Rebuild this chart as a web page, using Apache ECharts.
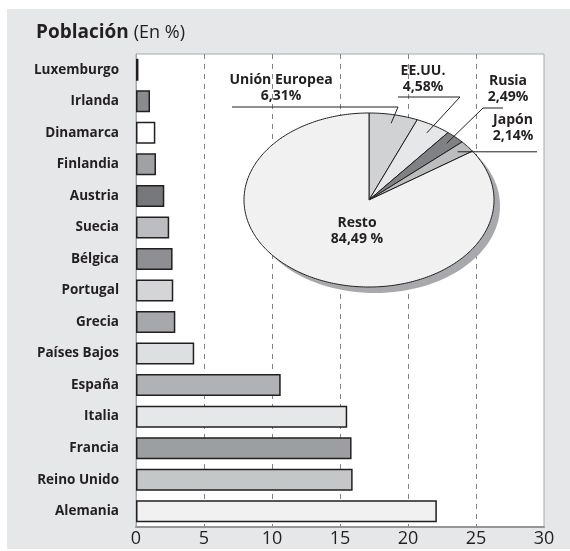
<!DOCTYPE html>
<html>
<head>
<meta charset="utf-8">
<script src="https://cdn.jsdelivr.net/npm/echarts@6/dist/echarts.min.js"></script>
<style>
  html, body { margin: 0; padding: 0; background: #fff; }
  #panel { position: absolute; left: 7px; top: 9px; width: 563px; height: 540px; background: #e6e7e8; }
  #chart { position: absolute; left: 0; top: 0; width: 570px; height: 551px; }
</style>
</head>
<body>
<div id="panel"></div>
<div id="chart"></div>
<script>
// bar data (top to bottom)
const countries = [
  "Luxemburgo", "Irlanda", "Dinamarca", "Finlandia", "Austria", "Suecia", "Bélgica",
  "Portugal", "Grecia", "Países Bajos", "España", "Italia", "Francia", "Reino Unido", "Alemania",
];
const shares = [0.18, 1.03, 1.42, 1.47, 2.08, 2.44, 2.69, 2.74, 2.89, 4.28, 10.64, 15.53, 15.85, 15.93, 22.12];
const barColors = [
  "#333333", "#8a8b8e", "#ffffff", "#a0a1a4", "#77787b", "#bcbdc0", "#8e8f92",
  "#d4d5d7", "#a7a8ab", "#dedfe0", "#b1b2b5", "#e6e7e8", "#9d9ea1", "#c5c6c8", "#f1f1f2",
];
const xTicks = [0, 5, 10, 15, 20, 25, 30];

// pie data (clockwise from 12 o'clock)
const pieNames = ["Unión Europea", "EE.UU.", "Rusia", "Japón", "Resto"];
const pieValues = [6.31, 4.58, 2.49, 2.14, 84.49];
const pieColors = ["#d1d2d4", "#e6e7e8", "#808184", "#bcbdbf", "#f1f1f2"];

// pie layout
const pie = { cx: 369, cy: 200, rx: 125, ry: 87 };
const labelPos = [[281, 88], [423, 79], [508, 89], [513, 128], [357, 231]];
const leaderElbow = [[398, 107], [460, 97], [483, 108], null, null];
const leaderEnd = [[232, 107], [398, 97], [503, 108], [537, 149], null];

const textColor = "#231f20";
const pieTotal = pieValues.reduce((a, b) => a + b, 0);

const ellipsePoint = (frac, r) => {
  const a = frac * 2 * Math.PI;
  return [pie.cx + pie.rx * r * Math.sin(a), pie.cy - pie.ry * r * Math.cos(a)];
};

const renderSlice = (params, api) => {
  const i = params.dataIndex;
  let start = 0;
  for (let k = 0; k < i; k += 1) start += pieValues[k];
  const from = start / pieTotal;
  const to = (start + api.value(0)) / pieTotal;
  const steps = Math.max(4, Math.ceil((to - from) * 360));
  const points = [[pie.cx, pie.cy]];
  for (let s = 0; s <= steps; s += 1) {
    points.push(ellipsePoint(from + ((to - from) * s) / steps, 1));
  }
  const children = [];
  if (i === 0) {
    // drop shadow under the whole pie
    children.push({
      type: "ellipse",
      shape: { cx: pie.cx + 6, cy: pie.cy + 6, rx: pie.rx, ry: pie.ry },
      style: { fill: "#a7a9ac" },
      z2: 0,
    });
  }
  children.push({
    type: "polygon",
    shape: { points },
    style: { fill: pieColors[i], stroke: "#231f20", lineWidth: 1 },
    z2: 1,
  });
  if (leaderEnd[i]) {
    const inner = ellipsePoint((from + to) / 2, 0.9);
    const linePts = [inner];
    if (leaderElbow[i]) linePts.push(leaderElbow[i]);
    linePts.push([leaderEnd[i][0], leaderElbow[i] ? leaderElbow[i][1] : inner[1]]);
    children.push({
      type: "polyline",
      shape: { points: linePts },
      style: { stroke: "#231f20", lineWidth: 1, fill: null },
      z2: 2,
    });
  }
  const valText = api.value(0).toFixed(2).replace(".", ",") + (i === 4 ? " %" : "%");
  children.push({
    type: "text",
    style: {
      text: pieNames[i] + "\n" + valText,
      x: labelPos[i][0],
      y: labelPos[i][1],
      align: "center",
      verticalAlign: "middle",
      fill: textColor,
      font: "bold 14px 'Open Sans'",
      lineHeight: 16,
    },
    z2: 3,
  });
  return { type: "group", children };
};

const chart = echarts.init(document.getElementById("chart"));
chart.setOption({
  backgroundColor: "transparent",
  animation: false,
  title: {
    text: "{b|Población} {n|(En %)}",
    left: 31,
    top: 18,
    textStyle: {
      rich: {
        b: { fontFamily: "Open Sans", fontWeight: "bold", fontSize: 19, color: textColor },
        n: { fontFamily: "Open Sans", fontWeight: "normal", fontSize: 18, color: textColor },
      },
    },
  },
  grid: {
    left: 136,
    right: 26,
    top: 54,
    bottom: 24,
    show: true,
    backgroundColor: "#ffffff",
    borderColor: "#a7a9ac",
    borderWidth: 1,
  },
  xAxis: {
    type: "value",
    min: xTicks[0],
    max: xTicks[xTicks.length - 1],
    interval: 5,
    axisLine: { show: true, lineStyle: { color: "#939598", width: 2 } },
    axisTick: { show: false },
    axisLabel: {
      color: textColor,
      fontFamily: "Open Sans",
      fontSize: 18,
      margin: 3,
    },
    splitLine: {
      show: true,
      lineStyle: {
        color: ["transparent", "#808285", "#808285", "#808285", "#808285", "#808285", "transparent"],
        type: [5, 5],
        width: 1,
      },
    },
  },
  yAxis: {
    type: "category",
    inverse: true,
    data: countries,
    axisLine: { show: true, lineStyle: { color: "#a7a9ac", width: 1 } },
    axisTick: { show: false },
    axisLabel: {
      color: textColor,
      fontFamily: "Open Sans",
      fontWeight: "bold",
      fontSize: 13.5,
      margin: 17,
    },
  },
  series: [
    {
      type: "bar",
      barWidth: 22,
      data: shares.map((v, i) => ({
        value: v,
        itemStyle: { color: barColors[i] },
      })),
      itemStyle: { borderColor: "#231f20", borderWidth: 1.5 },
      z: 3,
    },
    {
      type: "custom",
      coordinateSystem: "none",
      renderItem: renderSlice,
      data: pieValues.map((v) => [v]),
      z: 5,
    },
  ],
});
</script>
</body>
</html>
